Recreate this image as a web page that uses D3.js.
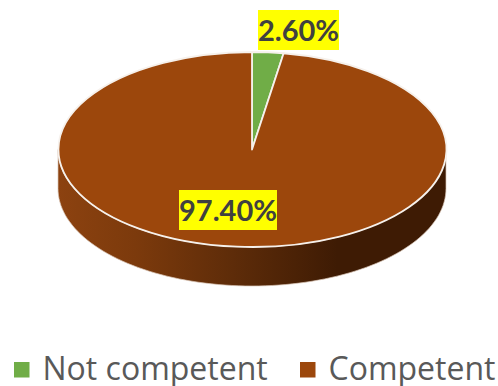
<!DOCTYPE html>
<html>
<head>
<meta charset="utf-8">
<script src="https://cdn.jsdelivr.net/npm/d3@7/dist/d3.min.js"></script>
<style>
  html, body { margin: 0; padding: 0; background: #fff; }
  svg { display: block; }
  text { font-family: Lato, "Open Sans", sans-serif; }
  .legend-label { font-family: "Open Sans", sans-serif; }
</style>
</head>
<body>
<svg id="chart" width="498" height="386"></svg>
<script>
const categories = ["Not competent", "Competent"];
const shares = [2.6, 97.4];
const valueLabels = ["2.60%", "97.40%"];
const sliceColors = ["#70ad47", "#9c470c"];

const width = 498, height = 386;
const cx = 252, cy = 149.5, rx = 194, ry = 97.5, depth = 39;

const svg = d3.select("#chart");
const defs = svg.append("defs");

// Wall shading runs left to right across the visible rim
const wallGradient = defs.append("linearGradient")
  .attr("id", "wall").attr("gradientUnits", "userSpaceOnUse")
  .attr("x1", cx - rx).attr("x2", cx + rx).attr("y1", 0).attr("y2", 0);
[[0, "#8c4210"], [0.2, "#7c3a0c"], [0.45, "#5e2c09"], [0.72, "#3e1b04"], [1, "#3e1b04"]]
  .forEach(([o, c]) => wallGradient.append("stop").attr("offset", o).attr("stop-color", c));

// Front half of the cylinder wall, swept from the right edge to the left edge
const wallAngles = d3.range(0, 181, 2).map(d => d * Math.PI / 180);
const wall = d3.area()
  .x(a => cx + rx * Math.cos(a))
  .y0(a => cy + ry * Math.sin(a))
  .y1(a => cy + depth + ry * Math.sin(a));

svg.append("path")
  .attr("d", wall(wallAngles))
  .attr("fill", "url(#wall)")
  .attr("stroke", "#d9c4b4")
  .attr("stroke-width", 0.7);

// Top face: a unit pie squashed into an ellipse
const pie = d3.pie().sort(null).value(d => d);
const arc = d3.arc().innerRadius(0).outerRadius(1);

svg.append("g")
  .attr("transform", `translate(${cx},${cy}) scale(${rx},${ry})`)
  .selectAll("path")
  .data(pie(shares))
  .join("path")
  .attr("d", arc)
  .attr("fill", (d, i) => sliceColors[i])
  .attr("stroke", "#f6f1ec")
  .attr("stroke-width", 1.8)
  .attr("stroke-linejoin", "round")
  .style("vector-effect", "non-scaling-stroke");

// Highlighted percentage labels
const labelBoxes = [
  { x: 258, y: 10, w: 81, h: 40 },
  { x: 179, y: 190, w: 98, h: 40 }
];
const labels = svg.append("g").selectAll("g").data(valueLabels).join("g");
labels.append("rect")
  .attr("x", (d, i) => labelBoxes[i].x)
  .attr("y", (d, i) => labelBoxes[i].y)
  .attr("width", (d, i) => labelBoxes[i].w)
  .attr("height", (d, i) => labelBoxes[i].h)
  .attr("fill", "#ffff00");
labels.append("text")
  .attr("x", (d, i) => labelBoxes[i].x + labelBoxes[i].w / 2)
  .attr("y", (d, i) => labelBoxes[i].y + 31)
  .attr("text-anchor", "middle")
  .attr("font-size", 29)
  .attr("font-weight", 700)
  .attr("fill", "#404040")
  .text(d => d);

// Legend along the bottom
const legendX = [14, 300];
const legend = svg.append("g").selectAll("g").data(categories).join("g")
  .attr("transform", (d, i) => `translate(${legendX[i]},362)`);
legend.append("rect")
  .attr("width", 15.5).attr("height", 15.5)
  .attr("fill", (d, i) => sliceColors[i]);
legend.append("text")
  .attr("class", "legend-label")
  .attr("x", 28.5).attr("y", 18)
  .attr("font-size", 32)
  .attr("fill", "#595959")
  .text(d => d);
</script>
</body>
</html>
